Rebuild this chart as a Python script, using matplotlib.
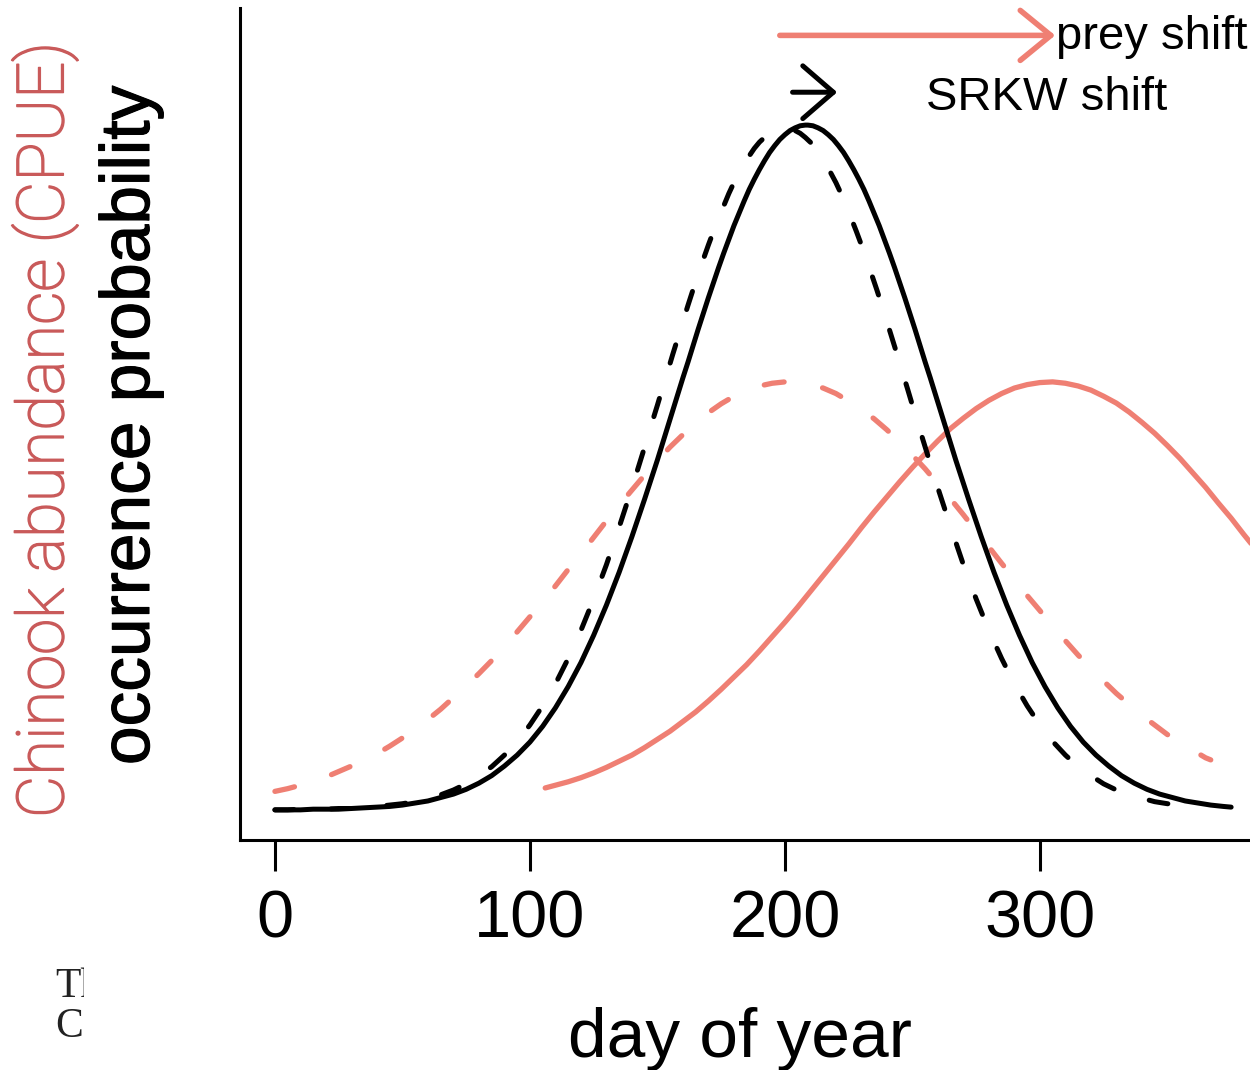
import matplotlib
matplotlib.use("Agg")
import matplotlib.pyplot as plt
import matplotlib.patheffects as pe
from matplotlib.transforms import Bbox, TransformedBbox

plt.rcParams['font.family'] = ['Liberation Sans', 'DejaVu Sans']

# SRKW occurrence probability, current (solid) and earlier (dashed), by day of year
srkw_now_days = (list(range(0, 151, 5)) + list(range(152, 209, 2)) + [209]
                 + list(range(211, 266, 2)) + list(range(267, 373, 5)) + [375])
srkw_now = [0.000, 0.000, 0.000, 0.001, 0.001, 0.001, 0.002, 0.003, 0.004, 0.005,
            0.007, 0.010, 0.013, 0.018, 0.023, 0.030, 0.039, 0.050, 0.064, 0.080,
            0.099, 0.122, 0.149, 0.180, 0.215, 0.255, 0.299, 0.347, 0.399, 0.454,
            0.511,
            0.535, 0.559, 0.583, 0.607, 0.631, 0.654, 0.678, 0.702, 0.725, 0.748,
            0.770, 0.792, 0.813, 0.833, 0.853, 0.871, 0.889, 0.906, 0.921, 0.935,
            0.948, 0.960, 0.970, 0.979, 0.986, 0.992, 0.996, 0.999, 1.000,
            1.000,
            0.999, 0.996, 0.992, 0.986, 0.979, 0.970, 0.960, 0.948, 0.935, 0.921,
            0.906, 0.889, 0.871, 0.853, 0.833, 0.813, 0.792, 0.770, 0.748, 0.725,
            0.702, 0.678, 0.654, 0.631, 0.607, 0.583, 0.559, 0.535,
            0.511, 0.454, 0.399, 0.347, 0.299, 0.255, 0.215, 0.180, 0.149, 0.122,
            0.099, 0.080, 0.064, 0.050, 0.039, 0.030, 0.023, 0.018, 0.013, 0.010,
            0.007, 0.005,
            0.004]

srkw_past_days = (list(range(0, 141, 5)) + list(range(144, 257, 2))
                  + list(range(260, 361, 5)))
srkw_past = [0.000, 0.000, 0.001, 0.001, 0.001, 0.002, 0.002, 0.003, 0.005, 0.007,
             0.009, 0.012, 0.017, 0.022, 0.029, 0.038, 0.050, 0.063, 0.080, 0.100,
             0.124, 0.152, 0.184, 0.221, 0.262, 0.308, 0.358, 0.413, 0.470,
             0.518, 0.542, 0.567, 0.591, 0.616, 0.640, 0.665, 0.689, 0.713, 0.737,
             0.760, 0.782, 0.804, 0.825, 0.845, 0.864, 0.882, 0.900, 0.916, 0.930,
             0.943, 0.955, 0.966, 0.975, 0.982, 0.988, 0.992, 0.994,
             0.995,
             0.994, 0.992, 0.988, 0.982, 0.975, 0.966, 0.955, 0.943, 0.930, 0.916,
             0.900, 0.882, 0.864, 0.845, 0.825, 0.804, 0.782, 0.760, 0.737, 0.713,
             0.689, 0.665, 0.640, 0.616, 0.591, 0.567, 0.542, 0.518,
             0.470, 0.413, 0.358, 0.308, 0.262, 0.221, 0.184, 0.152, 0.124, 0.100,
             0.080, 0.063, 0.050, 0.038, 0.029, 0.022, 0.017, 0.012, 0.009, 0.007,
             0.005]

# Chinook CPUE, earlier (dashed) and current (solid)
prey_past_days = list(range(0, 366, 5)) + [367]
prey_past = [0.027, 0.031, 0.036, 0.042, 0.048, 0.056, 0.064, 0.073, 0.082, 0.093,
             0.105, 0.118, 0.132, 0.147, 0.164, 0.181, 0.199, 0.218, 0.239, 0.260,
             0.282, 0.304, 0.327, 0.351, 0.374, 0.398, 0.422, 0.445, 0.467, 0.489,
             0.510, 0.530, 0.548, 0.565, 0.580, 0.593, 0.604, 0.613, 0.619, 0.623,
             0.625, 0.624, 0.621, 0.616, 0.608, 0.597, 0.585, 0.571, 0.555, 0.537,
             0.518, 0.498, 0.476, 0.454, 0.431, 0.407, 0.384, 0.360, 0.337, 0.313,
             0.291, 0.268, 0.247, 0.226, 0.207, 0.188, 0.170, 0.154, 0.138, 0.124,
             0.110, 0.098, 0.087, 0.076, 0.073]

prey_now_days = [106] + list(range(110, 391, 5))
prey_now = [0.032, 0.036, 0.041, 0.047, 0.054, 0.062, 0.071, 0.080, 0.091, 0.103,
            0.115, 0.129, 0.143, 0.159, 0.176, 0.194, 0.212, 0.232, 0.253, 0.274,
            0.296, 0.319, 0.342, 0.365, 0.388, 0.412, 0.435, 0.457, 0.479, 0.500,
            0.520, 0.539, 0.557, 0.572, 0.586, 0.598, 0.608, 0.616, 0.621, 0.624,
            0.625, 0.623, 0.619, 0.613, 0.604, 0.594, 0.581, 0.566, 0.550, 0.532,
            0.513, 0.492, 0.471, 0.448, 0.426, 0.402, 0.379, 0.356]

day_ticks = [0, 100, 200, 300]

BLACK = '#000000'
SALMON = '#EF7F73'
LABEL_RED = '#C95A5A'

fig = plt.figure(figsize=(12.5, 10.7), dpi=100)
ax = fig.add_axes([240 / 1250, 230 / 1070, 1010 / 1250, 832 / 1070])
ax.set_xlim(-13.7, 382.4)
ax.set_ylim(-0.044, 1.171)

dash = (0, (3.8, 7.4))
ax.plot(prey_past_days, prey_past, color=SALMON, lw=3.8, linestyle=dash,
        dash_capstyle='round', zorder=2)
ax.plot(prey_now_days, prey_now, color=SALMON, lw=3.8, solid_capstyle='round',
        solid_joinstyle='round', zorder=2)
ax.plot(srkw_past_days, srkw_past, color=BLACK, lw=3.6, linestyle=dash,
        dash_capstyle='round', zorder=3)
ax.plot(srkw_now_days, srkw_now, color=BLACK, lw=3.6, solid_capstyle='round',
        solid_joinstyle='round', zorder=4)

# shift arrows and their labels
ax.annotate('', xy=(306, 1.131), xytext=(198, 1.131),
            arrowprops=dict(arrowstyle='->,head_length=1.1,head_width=0.9',
                            color=SALMON, lw=4, shrinkA=0, shrinkB=0,
                            mutation_scale=20, capstyle='round'),
            annotation_clip=False)
ax.annotate('', xy=(220.5, 1.048), xytext=(203, 1.048),
            arrowprops=dict(arrowstyle='->,head_length=1.1,head_width=0.95',
                            color=BLACK, lw=3.6, shrinkA=0, shrinkB=0,
                            mutation_scale=20),
            annotation_clip=False)
ax.text(306.5, 1.129, 'prey shift', fontsize=34, va='center', ha='left', clip_on=False)
ax.text(255.5, 1.022, 'SRKW shift', fontsize=34, va='baseline', ha='left')

for side in ['top', 'right']:
    ax.spines[side].set_visible(False)
for side in ['left', 'bottom']:
    ax.spines[side].set_linewidth(2.2)

ax.set_xticks(day_ticks)
ax.set_xticklabels([str(d) for d in day_ticks])
ax.set_yticks([])
ax.tick_params(axis='x', length=22, width=2.2, pad=14, labelsize=48)

fig.text(740 / 1250, 1 - 1057 / 1070, 'day of year', fontsize=50,
         ha='center', va='baseline')
fig.text(131 / 1250, 1 - 425 / 1070, 'occurrence probability', fontsize=50,
         rotation=90, ha='center', va='center',
         path_effects=[pe.withStroke(linewidth=0.8, foreground=BLACK)])
fig.text(45 / 1250, 1 - 430 / 1070, 'Chinook abundance (CPUE)', fontsize=47,
         rotation=90, ha='center', va='center', color=LABEL_RED,
         family=['Roboto', 'DejaVu Sans'], fontweight='light',
         path_effects=[pe.withStroke(linewidth=1.1, foreground=LABEL_RED)])

# caption text cut off at the left margin
clip = TransformedBbox(Bbox([[0, 0], [84 / 1250, 1]]), fig.transFigure)
for txt, base in [('Th', 997), ('C', 1037)]:
    t = fig.text(55 / 1250, 1 - base / 1070, txt, fontsize=30, va='baseline',
                 family=['Liberation Serif', 'DejaVu Serif'], color='#222222')
    t.set_clip_box(clip)
    t.set_clip_on(True)

fig.savefig('out.png', dpi=100)
